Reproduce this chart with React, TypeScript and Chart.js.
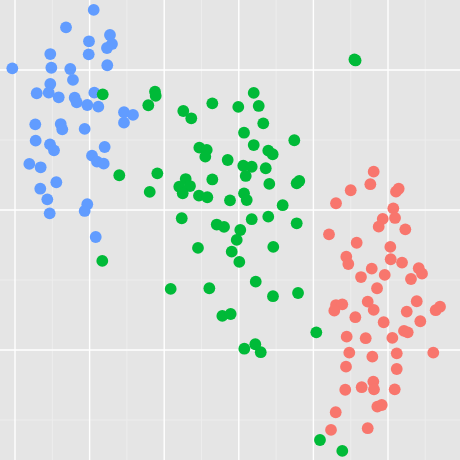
import React, { useEffect, useRef } from "react";
import { Chart, registerables } from "chart.js";

Chart.register(...registerables);

// Cluster "blue"
const blueX = [1.055, 0.684, 1.273, 1.300, 1.233, 0.992, 0.473, 0.988, -0.036, 0.487, 0.741, 1.237, 0.777, 0.473, 0.291, 0.452, 0.586, 1.063, 0.800, 0.827, 0.969, 1.117, 1.461, 1.582, 1.461, 0.272, 0.613, 0.634, 0.934, 0.277, 0.469, 0.523, 1.202, 1.032, 1.099, 1.189, 0.192, 0.344, 0.554, 0.339, 0.433, 0.969, 0.934, 0.465, 1.082];
const blueY = [2.429, 2.305, 2.250, 2.186, 2.157, 2.205, 2.114, 2.112, 2.012, 2.016, 2.007, 2.034, 1.929, 1.900, 1.834, 1.838, 1.805, 1.838, 1.802, 1.769, 1.750, 1.738, 1.698, 1.679, 1.624, 1.612, 1.614, 1.576, 1.579, 1.495, 1.469, 1.426, 1.450, 1.388, 1.345, 1.331, 1.329, 1.305, 1.198, 1.152, 1.076, 1.041, 0.993, 0.976, 0.807];

// Cluster "green"
const greenX = [1.176, 1.877, 1.886, 1.787, 1.398, 1.908, 1.806, 1.170, 2.256, 2.363, 2.645, 2.993, 3.200, 3.267, 3.328, 3.070, 3.744, 3.200, 2.471, 2.570, 2.551, 2.851, 3.395, 3.454, 3.060, 3.173, 3.361, 3.093, 2.288, 2.202, 2.346, 2.248, 2.645, 2.466, 2.578, 2.882, 3.070, 3.106, 3.409, 3.776, 3.811, 3.588, 2.235, 3.173, 3.395, 2.704, 2.802, 3.020, 3.776, 2.972, 2.453, 2.905, 3.462, 3.007, 2.087, 2.605, 3.227, 3.458, 3.794, 2.779, 2.891, 4.039, 3.074, 3.221, 3.294, 4.088, 4.387, 4.550, 4.565];
const greenY = [1.826, 1.845, 1.816, 1.748, 1.248, 1.262, 1.129, 0.636, 1.707, 1.655, 1.762, 1.736, 1.836, 1.743, 1.619, 1.552, 1.498, 1.464, 1.445, 1.429, 1.381, 1.357, 1.424, 1.398, 1.316, 1.309, 1.298, 1.243, 1.221, 1.166, 1.171, 1.119, 1.218, 1.102, 1.091, 1.069, 1.119, 1.071, 1.186, 1.191, 1.207, 1.034, 0.941, 0.934, 0.952, 0.896, 0.879, 0.857, 0.905, 0.786, 0.729, 0.702, 0.736, 0.629, 0.436, 0.441, 0.488, 0.384, 0.407, 0.243, 0.257, 0.126, 0.009, 0.041, -0.016, -0.643, -0.721, 2.075, 2.068];

// Cluster "red"
const redX = [4.808, 4.763, 4.500, 5.107, 5.143, 4.303, 5.071, 4.929, 5.094, 4.875, 5.232, 4.209, 4.580, 5.031, 4.441, 4.468, 5.036, 5.188, 4.782, 5.412, 5.456, 4.638, 4.956, 5.308, 4.853, 5.385, 4.303, 4.387, 4.280, 4.728, 4.808, 5.639, 5.697, 5.251, 4.562, 4.942, 5.433, 5.214, 5.264, 4.446, 4.701, 5.058, 4.481, 4.790, 5.117, 5.607, 4.437, 5.117, 4.803, 4.812, 4.647, 4.427, 5.090, 4.857, 4.916, 4.299, 4.236, 4.728];
const redY = [1.274, 1.184, 1.141, 1.131, 1.152, 1.048, 1.012, 0.936, 0.943, 0.881, 0.862, 0.826, 0.766, 0.736, 0.666, 0.614, 0.648, 0.624, 0.581, 0.584, 0.545, 0.521, 0.536, 0.507, 0.441, 0.348, 0.321, 0.326, 0.281, 0.345, 0.286, 0.284, 0.309, 0.274, 0.234, 0.198, 0.205, 0.136, 0.126, 0.095, 0.084, 0.086, -0.019, -0.048, -0.024, -0.019, -0.119, -0.136, -0.226, -0.281, -0.266, -0.284, -0.281, -0.405, -0.393, -0.445, -0.571, -0.559];

// Grid ticks (major on integers, minor on halves)
const xMajorTicks = [0, 1, 2, 3, 4, 5];
const xMinorTicks = [0.5, 1.5, 2.5, 3.5, 4.5, 5.5];
const yMajorTicks = [0, 1, 2];
const yMinorTicks = [-0.5, 0.5, 1.5];
const xRange = [-0.201, 5.965];
const yRange = [-0.786, 2.5];

const toPoints = (xs: number[], ys: number[]) => xs.map((x, i) => ({ x, y: ys[i] }));

const BG = "#E5E5E5";
const MAJOR = "#FFFFFF";
const MINOR = "#EDEDED";

export default function App() {
  const ref = useRef<HTMLCanvasElement | null>(null);
  useEffect(() => {
    document.body.style.margin = "0";
    const canvas = ref.current!;
    const panelPlugin = {
      id: "panel",
      beforeDatasetsDraw(chart: any) {
        const { ctx, chartArea } = chart;
        const xs = chart.scales.x;
        const ys = chart.scales.y;
        ctx.save();
        ctx.fillStyle = BG;
        ctx.fillRect(0, 0, chart.width, chart.height);
        const vline = (v: number, color: string, w: number) => {
          const p = xs.getPixelForValue(v);
          ctx.strokeStyle = color;
          ctx.lineWidth = w;
          ctx.beginPath();
          ctx.moveTo(p, chartArea.top);
          ctx.lineTo(p, chartArea.bottom);
          ctx.stroke();
        };
        const hline = (v: number, color: string, w: number) => {
          const p = ys.getPixelForValue(v);
          ctx.strokeStyle = color;
          ctx.lineWidth = w;
          ctx.beginPath();
          ctx.moveTo(chartArea.left, p);
          ctx.lineTo(chartArea.right, p);
          ctx.stroke();
        };
        xMinorTicks.forEach((v) => vline(v, MINOR, 1));
        yMinorTicks.forEach((v) => hline(v, MINOR, 1));
        xMajorTicks.forEach((v) => vline(v, MAJOR, 1.4));
        yMajorTicks.forEach((v) => hline(v, MAJOR, 1.4));
        ctx.restore();
      },
    };
    const chart = new Chart(canvas, {
      type: "scatter",
      data: {
        datasets: [
          { label: "red", data: toPoints(redX, redY), backgroundColor: "#F8766D" },
          { label: "green", data: toPoints(greenX, greenY), backgroundColor: "#00BA38" },
          { label: "blue", data: toPoints(blueX, blueY), backgroundColor: "#619CFF" },
        ],
      },
      options: {
        animation: false,
        responsive: false,
        devicePixelRatio: 1,
        layout: { padding: 0, autoPadding: false },
        elements: { point: { radius: 5.9, borderWidth: 0, hoverRadius: 5.9 } },
        plugins: { legend: { display: false }, tooltip: { enabled: false } },
        scales: {
          x: { type: "linear", display: false, min: xRange[0], max: xRange[1] },
          y: { type: "linear", display: false, min: yRange[0], max: yRange[1] },
        },
      },
      plugins: [panelPlugin],
    });
    return () => chart.destroy();
  }, []);
  return (
    <div style={{ position: "fixed", left: 0, top: 0, width: 460, height: 460 }}>
      <canvas ref={ref} width={460} height={460} style={{ display: "block" }} />
    </div>
  );
}
